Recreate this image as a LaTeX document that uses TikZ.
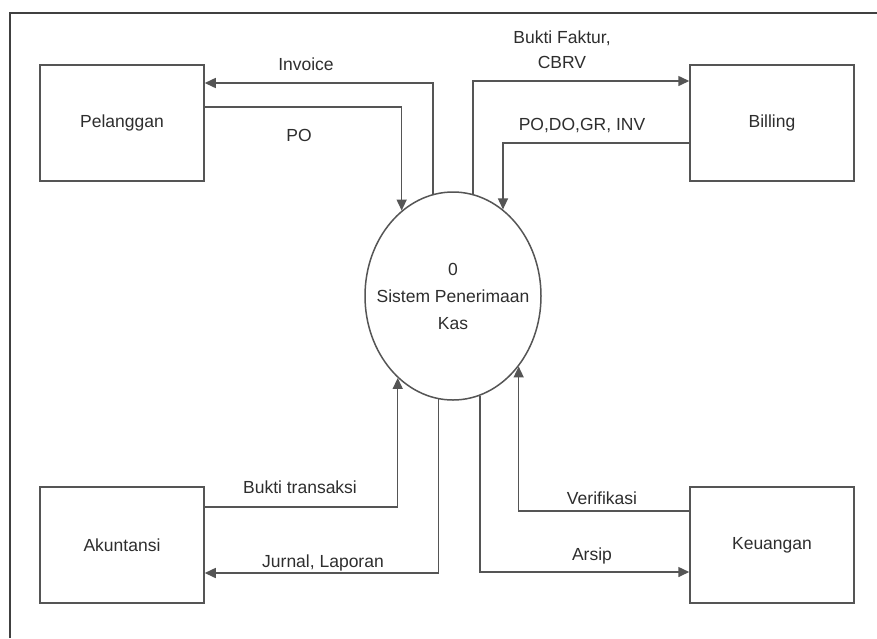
\documentclass[tikz,border=0pt]{standalone}
\usepackage{fontspec}
\setmainfont{Liberation Sans}
\usetikzlibrary{arrows.meta,shapes.geometric}
\definecolor{linec}{HTML}{555555}
\definecolor{framec}{HTML}{404040}
\definecolor{textc}{HTML}{2E2E2E}
\begin{document}
\begin{tikzpicture}[x=1pt,y=-1pt,
  txt/.style={font=\fontsize{17.5}{25}\selectfont, text=textc},
  entity/.style={txt, draw=linec, line width=1.5pt, minimum width=164pt, minimum height=116pt, inner sep=0pt},
  proc/.style={ellipse, draw=linec, line width=1.5pt, minimum width=176pt, minimum height=208pt, inner sep=0pt},
  proctext/.style={txt, align=center, font=\fontsize{17.5}{27}\selectfont},
  flow/.style={draw=linec, line width=1.5pt, -{Triangle[length=11pt,width=10pt]}},
  lbl/.style={txt, inner sep=1pt, align=center}]
\useasboundingbox (0,0) rectangle (877,638);
\fill[white] (0,0) rectangle (877,638);
\draw[framec, line width=1.8pt] (10,638) -- (10,13) -- (877,13);

\node[entity] (pel) at (122,123) {Pelanggan};
\node[entity] (bil) at (772,123) {Billing};
\node[entity] (aku) at (122,545) {Akuntansi};
\node[entity] (keu) at (772,545) {Keuangan};
\node[proc] (sys) at (453,296) {};
\node[proctext] (systxt) at (sys.center) {0\\Sistem Penerimaan\\Kas};

\draw[flow] (sys.101.75) |- (pel.east |- 0,83);
\draw[flow] (pel.east |- 0,107) -| (sys.121.04);
\draw[flow] (sys.79.4) |- (bil.west |- 0,81);
\draw[flow] (bil.west |- 0,143) -| (sys.60.44);
\draw[flow] (aku.east |- 0,507) -| (sys.-124.11);
\draw[flow] (sys.-98.9) |- (aku.east |- 0,573);
\draw[flow] (sys.-75.9) |- (keu.west |- 0,572);
\draw[flow] (keu.west |- 0,511) -| (sys.-47.2);

\node[lbl] (l1) at (306,64) {Invoice};
\node[lbl] (l2) at (299,135) {PO};
\node[lbl] (l3) at (562,50) {Bukti Faktur,\\CBRV};
\node[lbl] (l4) at (582,126) {PO,DO,GR, INV};
\node[lbl] (l5) at (300,487) {Bukti transaksi};
\node[lbl] (l6) at (323,563) {Jurnal, Laporan};
\node[lbl] (l7) at (602,498) {Verifikasi};
\node[lbl] (l8) at (592,556) {Arsip};
\end{tikzpicture}
\end{document}
